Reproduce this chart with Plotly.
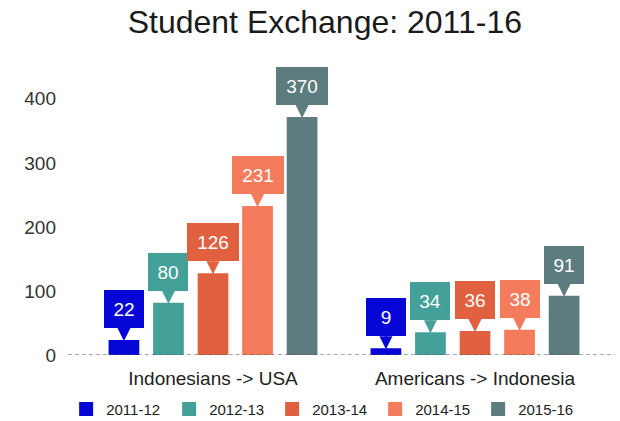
import plotly.graph_objects as go

categories = ["Indonesians -> USA", "Americans -> Indonesia"]
years = ["2011-12", "2012-13", "2013-14", "2014-15", "2015-16"]
values = {
    "2011-12": [22, 9],
    "2012-13": [80, 34],
    "2013-14": [126, 36],
    "2014-15": [231, 38],
    "2015-16": [370, 91],
}
colors = ["#0606d6", "#44a199", "#e0603f", "#f47b5c", "#5c7c7f"]

bargap = 0.15
bargroupgap = 0.355
font_family = "Liberation Sans, Arial, sans-serif"

fig = go.Figure()
for yr, col in zip(years, colors):
    fig.add_trace(go.Bar(name=yr, x=categories, y=values[yr], marker_color=col,
                         marker_line=dict(width=2, color=col)))

# callout labels
slot = (1 - bargap) / len(years)
annotations = []
for i, (yr, col) in enumerate(zip(years, colors)):
    off = -(1 - bargap) / 2 + slot * (i + 0.5)
    for ci, v in enumerate(values[yr]):
        txt = str(v)
        annotations.append(dict(
            x=ci + off, y=v, xref="x", yref="y",
            text=txt, showarrow=True, ax=0, ay=-32,
            arrowhead=2, arrowwidth=2, arrowsize=1.3, arrowcolor=col,
            bgcolor=col, borderpad=8, borderwidth=0,
            width=24 if len(txt) <= 2 else 36, height=22,
            font=dict(color="white", size=19, family=font_family),
        ))

fig.update_layout(
    width=620, height=421,
    margin=dict(l=82, r=14, t=86, b=66, autoexpand=False),
    paper_bgcolor="white", plot_bgcolor="white",
    barmode="group", bargap=bargap, bargroupgap=bargroupgap,
    font=dict(family=font_family, color="#222"),
    title=dict(text="Student Exchange: 2011-16", x=0.524, xanchor="center",
               y=0.948, yanchor="middle",
               font=dict(size=32, color="#1a1a1a", family=font_family)),
    annotations=annotations,
    showlegend=True,
    legend=dict(orientation="h", xref="container", x=0.522, xanchor="center",
                yref="container", y=0.028, yanchor="middle",
                entrywidth=58, entrywidthmode="pixels",
                font=dict(size=15, color="#222"), itemwidth=30, traceorder="normal"),
    shapes=[dict(type="line", xref="paper", yref="y", x0=-0.027, x1=1.017, y0=0, y1=0,
                 line=dict(color="#555", width=1, dash="4px,3px"))],
)
fig.update_yaxes(range=[0, 420], tickvals=[0, 100, 200, 300, 400], showgrid=False,
                 zeroline=False, showline=False, ticklabelstandoff=25,
                 tickfont=dict(size=19, color="#333"))
fig.update_xaxes(showgrid=False, showline=False, zeroline=False, ticklabelstandoff=10,
                 tickfont=dict(size=19, color="#222"))

fig.write_html("out.html", config={"displayModeBar": False},
               post_script="document.body.style.margin='0';")
